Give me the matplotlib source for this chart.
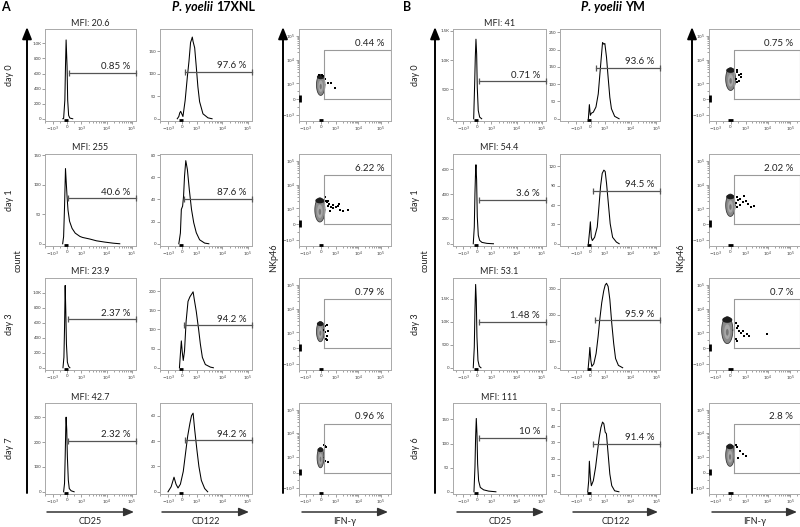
import numpy as np
import matplotlib
matplotlib.use("Agg")
import matplotlib.pyplot as plt
import matplotlib.transforms as mtransforms
from matplotlib.ticker import FixedLocator, FixedFormatter, NullFormatter

plt.rcParams['font.family'] = ['Lato', 'DejaVu Sans']

# ---------------------------------------------------------------- data
DAYS_A = ['day 0', 'day 1', 'day 3', 'day 7']
DAYS_B = ['day 0', 'day 1', 'day 3', 'day 6']
MFI_A = ['MFI: 20.6', 'MFI: 255', 'MFI: 23.9', 'MFI: 42.7']
MFI_B = ['MFI: 41', 'MFI: 54.4', 'MFI: 53.1', 'MFI: 111']
CD25_PCT_A = ['0.85 %', '40.6 %', '2.37 %', '2.32 %']
CD122_PCT_A = ['97.6 %', '87.6 %', '94.2 %', '94.2 %']
IFNG_PCT_A = ['0.44 %', '6.22 %', '0.79 %', '0.96 %']
CD25_PCT_B = ['0.71 %', '3.6 %', '1.48 %', '10 %']
CD122_PCT_B = ['93.6 %', '94.5 %', '95.9 %', '91.4 %']
IFNG_PCT_B = ['0.75 %', '2.02 %', '0.7 %', '2.8 %']

# histogram curves (fluorescence, count)
A_CD25_X = [
    [-300, -244, -156, -111, -67, 0, 44, 111, 200, 400],
    [-311, -244, -178, -111, -67, 0, 67, 178, 356, 578, 911, 1130, 2190, 3980, 8500, 17900, 32900],
    [-289, -222, -178, -133, -89, -44, 22, 111, 200],
    [-244, -178, -133, -89, -67, -22, 22, 89, 156, 289, 500],
]
A_CD25_Y = [
    [0, 2, 247, 695, 1045, 695, 247, 45, 9, 0],
    [0, 12, 63, 127, 108, 80, 57, 38, 26, 18, 12.4, 10.7, 8, 5, 2.8, 1, 0],
    [0, 141, 537, 1100, 757, 317, 75, 18, 0],
    [0, 34, 141, 262, 300, 249, 141, 47, 13, 4, 0],
]
A_CD122_X = [
    [-353, -244, -180, -113, 45, 200, 355, 467, 578, 645, 700, 755, 867, 978, 1125, 1310, 1770, 2780, 4000],
    [-244, -133, -67, 22, 89, 156, 244, 356, 489, 644, 800, 978, 1310, 2060, 3000],
    [-200, -133, -67, 0, 67, 156, 267, 400, 533, 689, 756, 844, 978, 1200, 1400, 1680, 2190, 3440, 4500],
    [-1000, -780, -580, -440, -300, -133, 67, 200, 378, 533, 644, 756, 867, 1030, 1230, 1530, 2060, 2700],
]
A_CD122_Y = [
    [0, 5, 13, 16.5, 5, 41, 94, 128, 170, 176, 182, 172, 158, 116, 71, 38, 11, 2, 0],
    [0, 9.7, 31, 34, 43, 61, 75, 67, 49, 31, 19, 10, 3.6, 0.6, 0],
    [0, 36, 70, 40, 19, 44, 121, 173, 185, 194, 198, 177, 147, 100, 62, 27, 8.5, 1.7, 0],
    [0, 4, 11.5, 6, 3, 6, 16, 28, 44, 54, 60, 62, 49, 33, 20, 9, 2.6, 0],
]
B_CD25_X = [
    [-270, -200, -155, -107, -57, -14, 57, 157, 300],
    [-300, -226, -179, -131, -107, -60, -12, 60, 155, 320, 680, 1200],
    [-300, -226, -179, -130, -83, -36, 36, 130, 250],
    [-250, -179, -131, -83, -36, 12, 83, 202, 440, 800, 1500],
]
B_CD25_Y = [
    [0, 593, 1045, 1356, 1100, 537, 141, 28, 0],
    [0, 136, 408, 598, 638, 516, 217, 68, 27, 11, 3, 0],
    [0, 450, 1246, 1810, 1464, 667, 160, 30, 0],
    [0, 51, 114, 152, 121, 58, 23, 9, 4, 1.4, 0],
]
B_CD122_X = [
    [-150, -80, -11, 57, 195, 380, 540, 655, 770, 840, 930, 1000, 1160, 1340, 1560, 1800, 2400, 3560],
    [-150, -57, -11, 57, 126, 287, 471, 586, 701, 816, 931, 1030, 1160, 1370, 1610, 2000, 2800, 3600],
    [-160, -92, -46, 23, 92, 230, 390, 530, 644, 782, 920, 1030, 1160, 1340, 1560, 1850, 2200, 2600, 3350, 4900],
    [-195, -126, -80, -11, 57, 195, 356, 494, 609, 724, 839, 931, 1030, 1150, 1340, 1560, 1850, 2400, 3500],
]
B_CD122_Y = [
    [0, 41, 10, 16, 19, 34, 72, 130, 187, 221, 216, 218, 178, 120, 62, 29, 7, 0],
    [0, 21, 34, 10, 5, 10, 26, 57, 89, 109, 114, 112, 94, 62, 31, 10, 2.6, 0],
    [0, 41, 77, 28, 5, 15, 54, 118, 182, 246, 291, 313, 320, 308, 259, 169, 92, 35, 9, 0],
    [0, 6.7, 18.6, 8.8, 3.7, 6.7, 15, 25, 33, 39, 42.4, 41.4, 36.3, 35.3, 23, 10.8, 3.7, 0.6, 0],
]

# histogram y-axes
A_CD25_YMAX = [1190, 152, 1200, 357]
A_CD122_YMAX = [200, 81, 234, 70]
B_CD25_YMAX = [1530, 725, 1950, 184]
B_CD122_YMAX = [260, 139, 340, 54]
A_CD25_TICKS = [[0, 200, 400, 600, 800, 1000], [0, 50, 100, 150], [0, 200, 400, 600, 800, 1000], [0, 100, 200, 300]]
A_CD25_TLAB = [['0', '200', '400', '600', '800', '1.0K'], ['0', '50', '100', '150'],
               ['0', '200', '400', '600', '800', '1.0K'], ['0', '100', '200', '300']]
A_CD122_TICKS = [[0, 50, 100, 150], [0, 20, 40, 60, 80], [0, 50, 100, 150, 200], [0, 20, 40, 60]]
B_CD25_TICKS = [[0, 500, 1000, 1500], [0, 200, 400, 600], [0, 500, 1000, 1500], [0, 50, 100, 150]]
B_CD25_TLAB = [['0', '500', '1.0K', '1.5K'], ['0', '200', '400', '600'],
               ['0', '500', '1.0K', '1.5K'], ['0', '50', '100', '150']]
B_CD122_TICKS = [[0, 50, 100, 150, 200, 250], [0, 30, 60, 90, 120], [0, 100, 200, 300], [0, 10, 20, 30, 40, 50]]

# histogram gates (level, start)
A_CD25_GATE = [(605, 133), (77, 67), (647, 89), (206, 89)]
A_CD122_GATE = [(105, 155), (40.5, 89), (111, 89), (40.5, 156)]
B_CD25_GATE = [(638, 130), (353, 107), (993, 130), (112, 107)]
B_CD122_GATE = [(147, 356), (82, 195), (180, 300), (29, 195)]

# dot plots: main population extent (x_lo, x_hi, y_lo, y_hi) and scattered events
A_BLOB = [(-290, 270, 250, 2400), (-400, 270, 150, 2800), (-290, 220, 420, 2900), (-250, 200, 310, 2500)]
B_BLOB = [(-330, 330, 560, 4600), (-330, 300, 500, 4000), (-600, 150, 300, 4600), (-330, 250, 400, 3500)]
A_DOT_X = [
    [490, 650, 930, 150, -100, 60, 250],
    [333, 420, 555, 480, 700, 780, 1000, 1200, 1400, 1450, 1980, 3300, 620, 450, 800, 300],
    [220, 300, 440, 350, 440, 250, 380, 500],
    [270, 490, 250, 200, 350],
]
A_DOT_Y = [
    [1030, 1000, 730, 2100, 2200, 2300, 1600],
    [2150, 1800, 1570, 1250, 1130, 1000, 1130, 1300, 1570, 900, 830, 875, 830, 2100, 1400, 3000],
    [1300, 1000, 800, 600, 500, 1800, 2000, 1100],
    [730, 700, 2900, 3300, 2600],
]
B_DOT_X = [
    [445, 560, 666, 330, 445, 560, 700, 400],
    [400, 500, 650, 800, 1000, 1300, 1800, 2500, 600, 450, 900, 350],
    [333, 445, 555, 666, 888, 1190, 1400, 333, 445, 9200, 500, 800],
    [400, 600, 800, 500, 1000, 350],
]
B_DOT_Y = [
    [2900, 2300, 2600, 1560, 1130, 1300, 1900, 3600],
    [3000, 2200, 2600, 1800, 2000, 1500, 1200, 1300, 1400, 1100, 3200, 1700],
    [2470, 1530, 1130, 970, 765, 910, 765, 560, 450, 910, 1900, 1200],
    [2500, 1800, 1300, 900, 1100, 3200],
]
IFNG_GATE = (200, 262143, 0, 25000)

BIEX_TICKS = [-1000, 0, 1000, 10000, 100000]
BIEX_LABELS = [r'$-10^3$', '0', r'$10^3$', r'$10^4$', r'$10^5$']
BIEX_MINOR = [-2000, -500, 500] + [m * 10 ** e for e in (3, 4) for m in range(2, 10)] + [200000]

# ---------------------------------------------------------------- layout
W, H = 800, 527
fig = plt.figure(figsize=(W / 100, H / 100), dpi=100)

ROW_TOP = [29, 154, 278, 403]
ROW_BOT = [121, 246, 370, 494]
COL = {'A1': (45, 136), 'A2': (160, 252), 'A3': (299, 391),
       'B1': (453, 546), 'B2': (560, 660), 'B3': (709, 800)}
XLIM = {'A1': (-2050, 1.43e5), 'A2': (-2050, 1.43e5), 'B1': (-2600, 1.46e5), 'B2': (-4230, 1.37e5)}
FRAME = '#a9a9a9'
GATE = '#555555'


def px_axes(x0, y0, x1, y1):
    return fig.add_axes([x0 / W, 1 - y1 / H, (x1 - x0) / W, (y1 - y0) / H])


def style(ax):
    for s in ax.spines.values():
        s.set_color(FRAME)
        s.set_linewidth(0.7)
    ax.tick_params(which='both', direction='out', color='#6a6a6a', width=0.45,
                   labelsize=3.2, labelcolor='#3a3a3a', pad=0.8)
    ax.tick_params(which='major', length=2.0)
    ax.tick_params(which='minor', length=1.1)


def biex_axis(axis):
    axis.set_major_locator(FixedLocator(BIEX_TICKS))
    axis.set_major_formatter(FixedFormatter(BIEX_LABELS))
    axis.set_minor_locator(FixedLocator(BIEX_MINOR))
    axis.set_minor_formatter(NullFormatter())


def histogram(key, r, xs, ys, ymax, ticks, tlabels, gate, pct):
    ax = px_axes(COL[key][0], ROW_TOP[r], COL[key][1], ROW_BOT[r])
    ax.set_xscale('symlog', linthresh=1000, linscale=0.5)
    xl = XLIM[key]
    ax.set_xlim(*xl)
    ax.set_ylim(-0.025 * ymax, ymax)
    style(ax)
    biex_axis(ax.xaxis)
    ax.yaxis.set_major_locator(FixedLocator(ticks))
    ax.yaxis.set_major_formatter(FixedFormatter(tlabels))
    ax.plot(xs, ys, color='black', lw=0.75, zorder=3)
    gy, gx0 = gate
    ax.plot([gx0, xl[1]], [gy, gy], color=GATE, lw=0.9, clip_on=False, zorder=4)
    ax.plot([gx0, xl[1]], [gy, gy], ls='none', marker='|', ms=4, mew=0.9, color=GATE,
            clip_on=False, zorder=4)
    tr = mtransforms.blended_transform_factory(ax.transAxes, ax.transData)
    ax.annotate(pct, xy=(1, gy), xycoords=tr, xytext=(-4.3, 1.2), textcoords='offset points',
                ha='right', va='bottom', fontsize=7, color='#222222')
    trb = mtransforms.blended_transform_factory(ax.transData, ax.transAxes)
    ax.plot([-250, 60], [0.008, 0.008], transform=trb, color='black', lw=2.0,
            solid_capstyle='butt', clip_on=False, zorder=5)
    return ax


def ellipse_xy(ax, ext, sx=1.0, sy=1.0, oy=0.0):
    tx = ax.xaxis.get_transform()
    ty = ax.yaxis.get_transform()
    X = tx.transform(np.array(ext[:2], float))
    Y = ty.transform(np.array(ext[2:], float))
    cx, cy = X.mean(), Y.mean() + oy * (Y[1] - Y[0])
    rx, ry = (X[1] - X[0]) / 2 * sx, (Y[1] - Y[0]) / 2 * sy
    t = np.linspace(0, 2 * np.pi, 64)
    ex = tx.inverted().transform(cx + rx * np.cos(t))
    ey = ty.inverted().transform(cy + ry * np.sin(t))
    return ex, ey


def dotplot(key, r, blob, dx, dy, pct):
    ax = px_axes(COL[key][0], ROW_TOP[r], COL[key][1], ROW_BOT[r])
    ax.set_xscale('symlog', linthresh=1000, linscale=0.6)
    ax.set_yscale('symlog', linthresh=1000, linscale=0.6)
    ax.set_xlim(-2000, 2.75e5)
    ax.set_ylim(-1730, 1.9e5)
    style(ax)
    biex_axis(ax.xaxis)
    biex_axis(ax.yaxis)
    gx0, gx1, gy0, gy1 = IFNG_GATE
    ax.plot([gx0, gx1, gx1, gx0, gx0], [gy0, gy0, gy1, gy1, gy0], color='#9a9a9a', lw=0.8, zorder=4)
    ex, ey = ellipse_xy(ax, blob)
    ax.fill(ex, ey, color='#8a8a8a', lw=0, zorder=2)
    ax.plot(ex, ey, color='#3a3a3a', lw=0.6, zorder=2.05)
    ex, ey = ellipse_xy(ax, blob, sx=0.55, sy=0.55, oy=-0.06)
    ax.fill(ex, ey, color='#a8a8a8', lw=0, zorder=2.1)
    ex, ey = ellipse_xy(ax, blob, sx=0.25, sy=0.25, oy=-0.08)
    ax.fill(ex, ey, color='#767676', lw=0, zorder=2.2)
    ex, ey = ellipse_xy(ax, blob, sx=0.9, sy=0.22, oy=0.38)
    ax.fill(ex, ey, color='#1c1c1c', lw=0, zorder=2.3)
    ax.scatter(dx, dy, s=1.3, color='black', marker='s', lw=0, zorder=3)
    ax.annotate(pct, xy=(1, gy1), xycoords=mtransforms.blended_transform_factory(ax.transAxes, ax.transData),
                xytext=(-5, 5), textcoords='offset points', ha='right', va='center',
                fontsize=7, color='#222222')
    trb = mtransforms.blended_transform_factory(ax.transData, ax.transAxes)
    ax.plot([-150, 150], [0.008, 0.008], transform=trb, color='black', lw=2.0,
            solid_capstyle='butt', clip_on=False, zorder=5)
    trl = mtransforms.blended_transform_factory(ax.transAxes, ax.transData)
    ax.plot([0.008, 0.008], [-150, 250], transform=trl, color='black', lw=2.0,
            solid_capstyle='butt', clip_on=False, zorder=5)
    return ax


for r in range(4):
    histogram('A1', r, A_CD25_X[r], A_CD25_Y[r], A_CD25_YMAX[r], A_CD25_TICKS[r], A_CD25_TLAB[r],
              A_CD25_GATE[r], CD25_PCT_A[r])
    histogram('A2', r, A_CD122_X[r], A_CD122_Y[r], A_CD122_YMAX[r], A_CD122_TICKS[r],
              [str(v) for v in A_CD122_TICKS[r]], A_CD122_GATE[r], CD122_PCT_A[r])
    dotplot('A3', r, A_BLOB[r], A_DOT_X[r], A_DOT_Y[r], IFNG_PCT_A[r])
    histogram('B1', r, B_CD25_X[r], B_CD25_Y[r], B_CD25_YMAX[r], B_CD25_TICKS[r], B_CD25_TLAB[r],
              B_CD25_GATE[r], CD25_PCT_B[r])
    histogram('B2', r, B_CD122_X[r], B_CD122_Y[r], B_CD122_YMAX[r], B_CD122_TICKS[r],
              [str(v) for v in B_CD122_TICKS[r]], B_CD122_GATE[r], CD122_PCT_B[r])
    dotplot('B3', r, B_BLOB[r], B_DOT_X[r], B_DOT_Y[r], IFNG_PCT_B[r])

# ---------------------------------------------------------------- overlay annotations
ov = fig.add_axes([0, 0, 1, 1])
ov.set_xlim(0, W)
ov.set_ylim(H, 0)
ov.axis('off')

TXT = '#222222'
AR = dict(arrowstyle='-|>,head_width=0.28,head_length=0.7', color='black', lw=1.4,
          shrinkA=0, shrinkB=0)
ARH = dict(arrowstyle='-|>,head_width=0.25,head_length=0.6', color='#333333', lw=1.1,
           shrinkA=0, shrinkB=0)

for x in (27, 435, 283, 692):
    ov.annotate('', xy=(x, 27), xytext=(x, 493), arrowprops=AR)

BOTTOM = [(47, 134, 'CD25'), (162, 249, 'CD122'), (302, 388, 'IFN-γ'),
          (457, 544, 'CD25'), (573, 658, 'CD122'), (712, 797, 'IFN-γ')]
for x0, x1, lab in BOTTOM:
    ov.annotate('', xy=(x1, 512), xytext=(x0, 512), arrowprops=ARH)
    ov.text((x0 + x1) / 2, 522, lab, ha='center', va='center', fontsize=6.5, color=TXT)

for r in range(4):
    yc = (ROW_TOP[r] + ROW_BOT[r]) / 2
    ov.text(9, yc, DAYS_A[r], rotation=90, ha='center', va='center', fontsize=6.5, color=TXT)
    ov.text(415, yc, DAYS_B[r], rotation=90, ha='center', va='center', fontsize=6.5, color=TXT)
    ov.text((COL['A1'][0] + COL['A1'][1]) / 2, ROW_TOP[r] - 6, MFI_A[r], ha='center', va='center',
            fontsize=6.5, color=TXT)
    ov.text((COL['B1'][0] + COL['B1'][1]) / 2, ROW_TOP[r] - 6, MFI_B[r], ha='center', va='center',
            fontsize=6.5, color=TXT)

ov.text(18, 261, 'count', rotation=90, ha='center', va='center', fontsize=6.5, color=TXT)
ov.text(425, 261, 'count', rotation=90, ha='center', va='center', fontsize=6.5, color=TXT)
ov.text(274, 258, 'NKp46', rotation=90, ha='center', va='center', fontsize=6.5, color=TXT)
ov.text(681, 258, 'NKp46', rotation=90, ha='center', va='center', fontsize=6.5, color=TXT)

ov.text(1, 7, 'A', ha='left', va='center', fontsize=9, fontweight='bold', color='black')
ov.text(403, 7, 'B', ha='left', va='center', fontsize=9, fontweight='bold', color='black')
ov.text(213, 7, 'P. yoelii', ha='right', va='center', fontsize=9, fontweight='bold',
        fontstyle='italic', color='black')
ov.text(216, 7, '17XNL', ha='left', va='center', fontsize=9, fontweight='bold', color='black')
ov.text(622, 7, 'P. yoelii', ha='right', va='center', fontsize=9, fontweight='bold',
        fontstyle='italic', color='black')
ov.text(625, 7, 'YM', ha='left', va='center', fontsize=9, fontweight='bold', color='black')

fig.savefig('out.png', dpi=100)
